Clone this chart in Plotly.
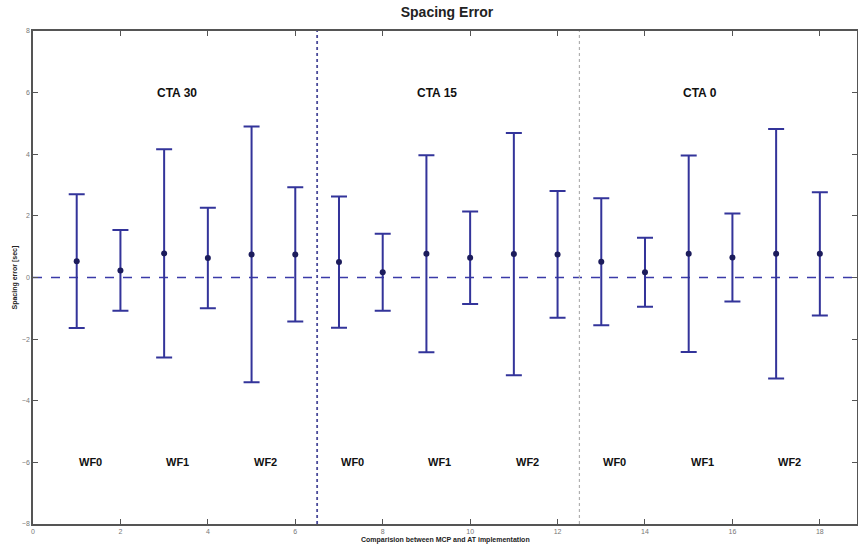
import plotly.graph_objects as go

x_pos = list(range(1, 19))
means = [0.53, 0.23, 0.78, 0.63, 0.75, 0.75,
         0.50, 0.17, 0.77, 0.64, 0.76, 0.75,
         0.51, 0.17, 0.77, 0.65, 0.77, 0.77]
errs = [2.17, 1.31, 3.38, 1.63, 4.15, 2.18,
        2.13, 1.25, 3.20, 1.50, 3.93, 2.06,
        2.06, 1.12, 3.19, 1.43, 4.05, 2.00]
cta_labels = ["CTA 30", "CTA 15", "CTA 0"]
cta_x = [3.3, 9.25, 15.25]
cta_y = 6
wf_labels = ["WF0", "WF1", "WF2"] * 3
wf_x = [1, 3, 5, 7, 9, 11, 13, 15, 17]
wf_y = -6
sep_x = [6.5, 12.5]
x_ticks = list(range(0, 19, 2))
y_ticks = list(range(-8, 9, 2))

fig = go.Figure()

fig.add_trace(go.Scatter(
    x=x_pos, y=means, mode="markers",
    marker=dict(color="#1c1c5c", size=6),
    error_y=dict(type="data", array=errs, visible=True,
                 color="#33349a", thickness=2, width=8),
    showlegend=False,
))

# zero line
fig.add_shape(type="line", xref="paper", x0=0, x1=1, yref="y", y0=0, y1=0,
              line=dict(color="#3a3aa8", width=1.5, dash="dash"), layer="below")
# separators
fig.add_shape(type="line", xref="x", x0=sep_x[0], x1=sep_x[0], yref="paper", y0=0, y1=1,
              line=dict(color="#4a4a9a", width=1.8, dash="dot"))
fig.add_shape(type="line", xref="x", x0=sep_x[1], x1=sep_x[1], yref="paper", y0=0, y1=1,
              line=dict(color="#b0b0b0", width=1.2, dash="dot"))

for lab, xx in zip(cta_labels, cta_x):
    fig.add_annotation(x=xx, y=cta_y, text="<b>" + lab + "</b>", showarrow=False,
                       xanchor="center", yanchor="middle",
                       font=dict(family="Liberation Sans, Arial", size=12, color="#111"))
for lab, xx in zip(wf_labels, wf_x):
    fig.add_annotation(x=xx, y=wf_y, text="<b>" + lab + "</b>", showarrow=False,
                       xanchor="left", yanchor="middle",
                       font=dict(family="Liberation Sans, Arial", size=11, color="#111"))

# axis titles
fig.add_annotation(xref="paper", yref="paper", x=0.5, y=0, yshift=-16,
                   text="<b>Comparision between MCP and AT implementation</b>",
                   showarrow=False, xanchor="center", yanchor="middle",
                   font=dict(family="Liberation Sans, Arial", size=7, color="#222"))
fig.add_annotation(xref="paper", yref="paper", x=0, y=0.5, xshift=-19, textangle=-90,
                   text="<b>Spacing error [sec]</b>",
                   showarrow=False, xanchor="center", yanchor="middle",
                   font=dict(family="Liberation Sans, Arial", size=7, color="#222"))

fig.update_layout(
    width=858, height=548,
    margin=dict(l=33, r=1, t=31, b=24, autoexpand=False),
    paper_bgcolor="white", plot_bgcolor="white",
    title=dict(text="<b>Spacing Error</b>", x=0.521, xanchor="center", y=0.978, yanchor="middle",
               font=dict(family="Liberation Sans, Arial", size=14, color="#222")),
    font=dict(family="Liberation Sans, Arial", size=7, color="#555"),
    xaxis=dict(range=[0, 18.85], tickvals=x_ticks, ticks="inside", ticklen=5,
               tickcolor="#555", showline=True, linecolor="#555", linewidth=1.5,
               mirror="ticks", showgrid=False, zeroline=False, automargin=False,
               tickfont=dict(size=7, color="#777")),
    yaxis=dict(range=[-8, 8], tickvals=y_ticks, ticks="inside", ticklen=5,
               tickcolor="#555", showline=True, linecolor="#555", linewidth=1.5,
               mirror="ticks", showgrid=False, zeroline=False, automargin=False,
               tickfont=dict(size=7, color="#777")),
)

fig.write_html("out.html", config={"displayModeBar": False},
               post_script="document.body.style.margin='0';document.body.style.overflow='hidden';")
